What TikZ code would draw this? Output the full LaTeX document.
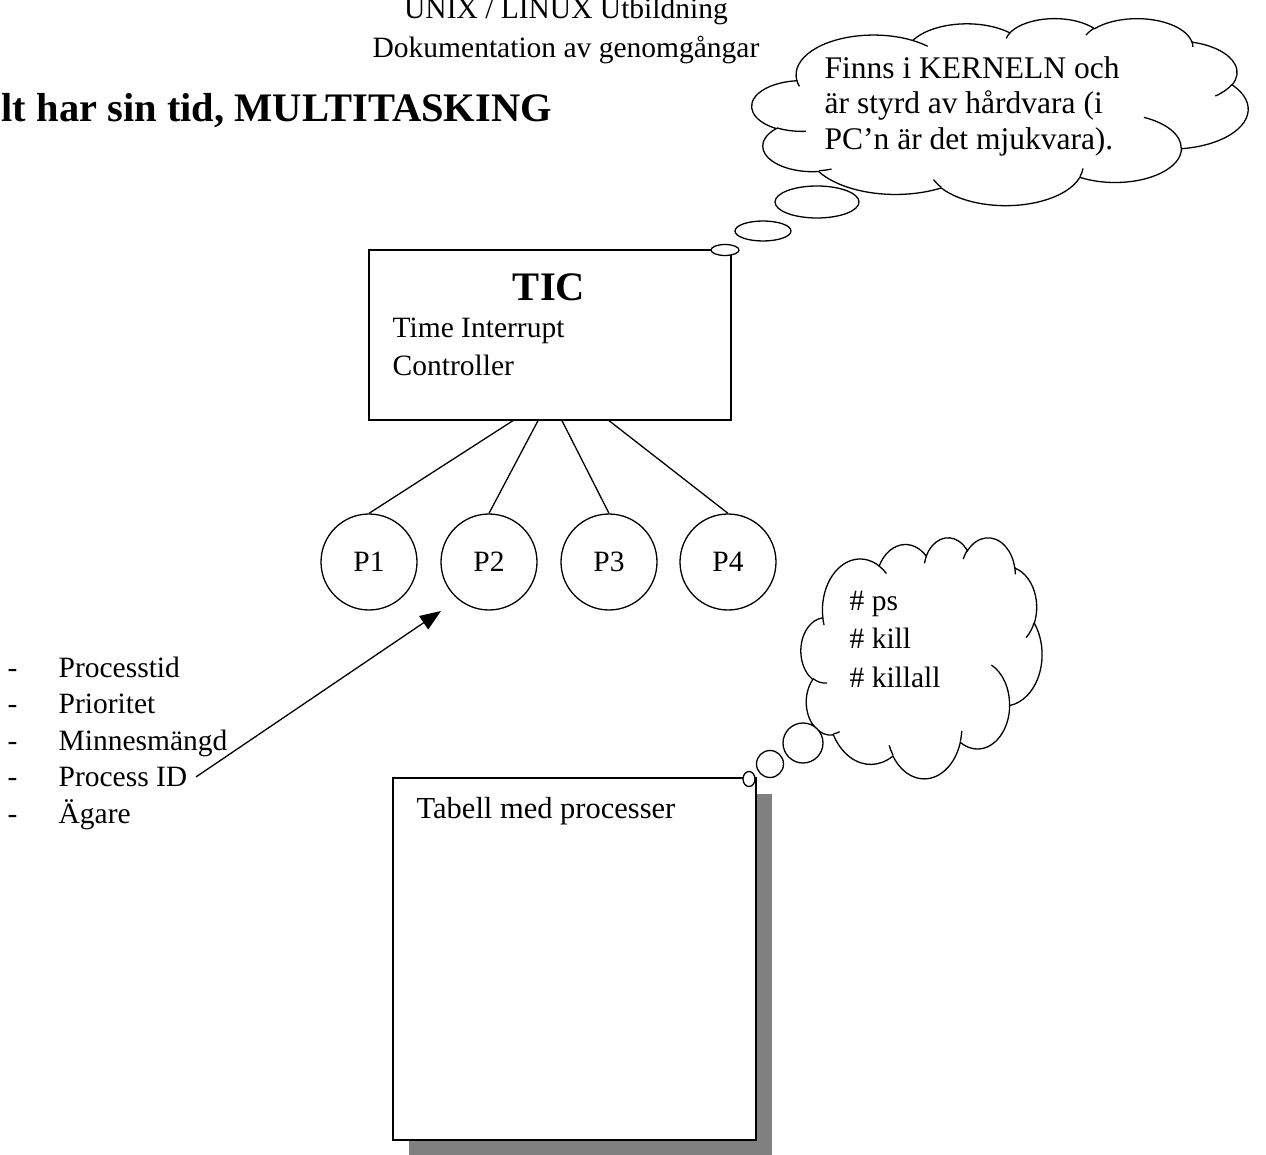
\documentclass[tikz,border=0pt]{standalone}
\usepackage{fontspec}
\setmainfont{Liberation Serif}
\usetikzlibrary{arrows.meta,shadows}

% Elliptic arc given by radii and visual start/sweep angles (degrees),
% appended to the current pgf path.
\newcommand\cldarc[4]{%
  \pgfmathsetmacro\cldta{atan2(#1*sin(#3),#2*cos(#3))}%
  \pgfmathsetmacro\cldtb{atan2(#1*sin(#3+#4),#2*cos(#3+#4))}%
  \pgfmathsetmacro\cldd{\cldtb-\cldta}%
  \pgfmathsetmacro\cldd{\cldd+360*((#4>0)*(\cldd<0))-360*((#4<0)*(\cldd>0))}%
  \pgfmathsetmacro\cldte{\cldta+\cldd}%
  \pgfpatharc{\cldta}{\cldte}{#1pt and #2pt}%
}

% Cloud outline in a 432 x 432 frame (y pointing down)
\newcommand\cloudoutline{%
  \pgfpathmoveto{\pgfpoint{39pt}{143.7pt}}%
  \cldarc{67.53}{91.90}{-190.4875}{123.7805}%
  \cldarc{53.33}{72.67}{-144.1024}{89.9452}%
  \cldarc{43.65}{59.45}{-145.8079}{99.7230}%
  \cldarc{48.57}{65.95}{-130.9861}{117.2417}%
  \cldarc{53.33}{72.73}{-78.7089}{109.0269}%
  \cldarc{67.75}{92.20}{-46.2673}{130.2690}%
  \cldarc{57.85}{78.67}{0.6250}{114.0333}%
  \cldarc{67.52}{92.15}{22.4516}{115.1726}%
  \cldarc{77.20}{105.43}{66.2426}{75.7110}%
  \cldarc{43.60}{59.18}{-274.9421}{146.7356}%
  \cldarc{43.45}{59.45}{-246.8285}{152.5189}%
  \pgfpathclose}

% Short arcs marking where the lobes meet
\newcommand\cloudinner{%
  \pgfpathmoveto{\pgfpoint{46.93pt}{261.77pt}}\cldarc{43.45}{59.45}{86.7420}{26.4295}%
  \pgfpathmoveto{\pgfpoint{69.28pt}{348.99pt}}\cldarc{43.60}{59.18}{73.6105}{11.4475}%
  \pgfpathmoveto{\pgfpoint{164.78pt}{390.90pt}}\cldarc{67.52}{92.15}{137.6242}{14.0811}%
  \pgfpathmoveto{\pgfpoint{288.27pt}{347.51pt}}\cldarc{67.52}{92.15}{6.4533}{15.9984}%
  \pgfpathmoveto{\pgfpoint{341.29pt}{229.54pt}}\cldarc{57.85}{78.67}{-70.2924}{70.9174}%
  \pgfpathmoveto{\pgfpoint{417.98pt}{153.54pt}}\cldarc{53.33}{72.73}{30.3180}{27.7515}%
  \pgfpathmoveto{\pgfpoint{383.24pt}{54.26pt}}\cldarc{48.57}{65.95}{-13.7443}{14.8589}%
  \pgfpathmoveto{\pgfpoint{290.78pt}{39.52pt}}\cldarc{48.57}{65.95}{-149.1815}{18.1954}%
  \pgfpathmoveto{\pgfpoint{221.41pt}{47.20pt}}\cldarc{43.65}{59.45}{-163.4943}{17.6864}%
  \pgfpathmoveto{\pgfpoint{140.00pt}{51.92pt}}\cldarc{67.53}{91.90}{-66.7070}{12.3194}%
  \pgfpathmoveto{\pgfpoint{41.27pt}{157.89pt}}\cldarc{67.53}{91.90}{157.6544}{11.8582}%
}

% \drawcloud{left}{top}{width}{height}
\newcommand\drawcloud[4]{%
  \begin{scope}[shift={(#1,#2)},xscale=#3/432,yscale=-#4/432]
    \cloudoutline
    \pgfsetfillcolor{white}%
    \pgfusepath{fill,stroke}%
    \cloudinner
    \pgfusepath{stroke}%
  \end{scope}}

\begin{document}
\begin{tikzpicture}[x=1pt,y=-1pt,line width=1.3pt,
  txt/.style={inner sep=0pt,anchor=base west,font=\fontsize{29.5}{35}\selectfont},
  big/.style={inner sep=0pt,font=\fontsize{40.5}{48}\selectfont\bfseries},
  proc/.style={circle,draw,fill=white,minimum size=96pt,inner sep=0pt,
    font=\fontsize{29.5}{35}\selectfont},
  bubble/.style={draw,fill=white}]
\useasboundingbox (0,0) rectangle (1266,1155);
\clip (0,0) rectangle (1266,1155);
\fill[white] (0,0) rectangle (1266,1155);

% header and heading
\node[txt,anchor=base] (hdra) at (566,19) {UNIX / LINUX Utbildning};
\node[txt,anchor=base] (hdrb) at (566,58) {Dokumentation av genomgångar};
\node[big,anchor=base west] (title) at (1,122) {lt har sin tid, MULTITASKING};

% kernel note
\drawcloud{752}{18}{496}{187}
\node[txt,font=\fontsize{31.5}{37}\selectfont] (k1) at (824,79) {Finns i KERNELN och};
\node[txt,font=\fontsize{31.5}{37}\selectfont] (k2) at (824,114) {är styrd av hårdvara (i};
\node[txt,font=\fontsize{31.5}{37}\selectfont] (k3) at (824,150) {PC’n är det mjukvara).};

% timer controller
\node[draw,fill=white,minimum width=362pt,minimum height=170pt,inner sep=0pt] (tic) at (550,335) {};
\node[big,anchor=base] (ticname) at (549,301) {TIC};
\node[txt] (tict1) at (392,338) {Time Interrupt};
\node[txt] (tict2) at (392,376) {Controller};

\draw[bubble] (817,202) ellipse [x radius=42, y radius=16];
\draw[bubble] (763,231) ellipse [x radius=28, y radius=10];
\draw[bubble] (725,250) ellipse [x radius=14, y radius=5.5];

% processes
\node[proc] (p1) at (369,562) {P1};
\node[proc] (p2) at (489,562) {P2};
\node[proc] (p3) at (609,562) {P3};
\node[proc] (p4) at (728,562) {P4};
\draw ([xshift=-37pt]tic.south) -- (p1.north);
\draw ([xshift=-12pt]tic.south) -- (p2.north);
\draw ([xshift=12pt]tic.south) -- (p3.north);
\draw ([xshift=59pt]tic.south) -- (p4.north);

% process attributes
\node[txt] (d1) at (7,677) {-};
\node[txt] (d2) at (7,713.5) {-};
\node[txt] (d3) at (7,750) {-};
\node[txt] (d4) at (7,786.5) {-};
\node[txt] (d5) at (7,823) {-};
\node[txt] (li1) at (58,677) {Processtid};
\node[txt] (li2) at (58,713.5) {Prioritet};
\node[txt] (li3) at (58,750) {Minnesmängd};
\node[txt] (li4) at (58,786.5) {Process ID};
\node[txt] (li5) at (58,823) {Ägare};

\coordinate (tip) at (441,611);
\draw[-{Triangle[length=21pt,width=16pt]}] ([xshift=8pt]li4.east) -- (tip);

% process table
\node[draw,fill=white,minimum width=363pt,minimum height=362pt,inner sep=0pt,
  drop shadow={shadow xshift=16pt,shadow yshift=-16pt,fill=gray,opacity=1}] (tbl) at (574.5,959) {};
\node[txt,font=\fontsize{30.5}{36}\selectfont] (tbltxt) at (416,818) {Tabell med processer};

% commands note
\drawcloud{801}{537}{241}{241}
\node[txt] (c1) at (849,610) {\# ps};
\node[txt] (c2) at (849,648) {\# kill};
\node[txt] (c3) at (849,687) {\# killall};

\draw[bubble] (803,743) circle [radius=20];
\draw[bubble] (770,764) circle [radius=13.5];
\draw[bubble] (749,779) ellipse [x radius=6, y radius=7.5];
\end{tikzpicture}
\end{document}
